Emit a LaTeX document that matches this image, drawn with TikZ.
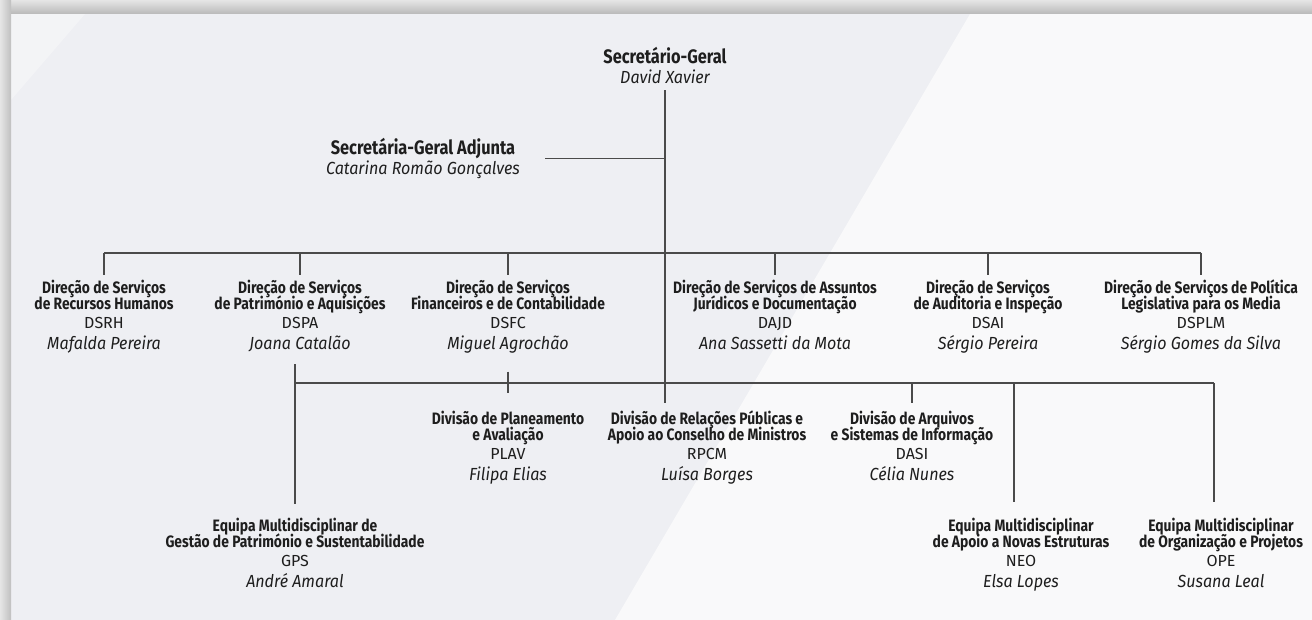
\documentclass[tikz,border=0pt]{standalone}
\usepackage{fontspec}
\usepackage{tikz}
\usetikzlibrary{positioning, calc}
\setmainfont{Fira Sans}
\newfontfamily\headfam[FakeStretch=0.84]{Fira Sans}
\newfontfamily\abbrfam[FakeStretch=1.0]{Fira Sans}
\newfontfamily\namefam[FakeStretch=0.92]{Fira Sans}
\definecolor{panel}{HTML}{EEEFF3}
\definecolor{panellight}{HTML}{F9F9FA}
\definecolor{ink}{HTML}{1E1E1E}
\definecolor{wire}{HTML}{4A4A4A}
\newcommand{\fixlines}{\lineskiplimit-20pt\relax}
\newcommand{\hd}{\headfam\bfseries\fontsize{16.5}{16}\selectfont}
% chief: title and name
\newcommand{\chief}[2]{\rule{0pt}{15pt}{\headfam\bfseries\fontsize{19.5}{20}\selectfont #1}\\{\namefam\itshape\fontsize{17.5}{20}\selectfont #2}}
% unit: two title lines, acronym, head
\newcommand{\orgunit}[4]{\rule{0pt}{12pt}{\hd #1}\\{\hd #2}\\[3pt]{\abbrfam\fontsize{16}{16}\selectfont #3}\\[5pt]{\namefam\itshape\fontsize{17.5}{16}\selectfont #4}}

\begin{document}
\begin{tikzpicture}[x=1pt, y=-1pt,
    unit/.style={align=center, anchor=north, inner sep=0pt, text=ink, font=\fontsize{13}{16}\selectfont\fixlines},
    chiefbox/.style={unit, font=\fontsize{16}{20}\selectfont\fixlines},
    orgline/.style={draw=wire, line width=1.3pt}]
    \useasboundingbox (0,0) rectangle (1312,620);
    % Background and frame
    \fill[panel] (11,14) rectangle (1312,620);
    \fill[panellight] (970,14) -- (1312,14) -- (1312,620) -- (615,620) -- cycle;
    \fill[panellight, opacity=0.5] (11,14) -- (85,14) -- (11,100) -- cycle;
    \shade[top color=gray!20, bottom color=gray!55] (0,0) rectangle (1312,14);
    \shade[left color=gray!20, right color=gray!50] (0,0) rectangle (11,620);

    % Top
    \node[chiefbox] (sg) at (665,47) {\chief{Secretário-Geral}{David Xavier}};
    \node[chiefbox] (adj) at (423,138) {\chief{Secretária-Geral Adjunta}{Catarina Romão Gonçalves}};

    % Direções de Serviços
    \node[unit] (dsrh) at (104,280) {\orgunit{Direção de Serviços}{de Recursos Humanos}{DSRH}{Mafalda Pereira}};
    \node[unit] (dspa) at (300,280) {\orgunit{Direção de Serviços}{de Património e Aquisições}{DSPA}{Joana Catalão}};
    \node[unit] (dsfc) at (508,280) {\orgunit{Direção de Serviços}{Financeiros e de Contabilidade}{DSFC}{Miguel Agrochão}};
    \node[unit] (dajd) at (775,280) {\orgunit{Direção de Serviços de Assuntos}{Jurídicos e Documentação}{DAJD}{Ana Sassetti da Mota}};
    \node[unit] (dsai) at (988,280) {\orgunit{Direção de Serviços}{de Auditoria e Inspeção}{DSAI}{Sérgio Pereira}};
    \node[unit] (dsplm) at (1201,280) {\orgunit{Direção de Serviços de Política}{Legislativa para os Media}{DSPLM}{Sérgio Gomes da Silva}};

    % Divisões
    \node[unit] (plav) at (508,411) {\orgunit{Divisão de Planeamento}{e Avaliação}{PLAV}{Filipa Elias}};
    \node[unit] (rpcm) at (707,411) {\orgunit{Divisão de Relações Públicas e}{Apoio ao Conselho de Ministros}{RPCM}{Luísa Borges}};
    \node[unit] (dasi) at (912,411) {\orgunit{Divisão de Arquivos}{e Sistemas de Informação}{DASI}{Célia Nunes}};

    % Equipas multidisciplinares
    \node[unit] (gps) at (295,518) {\orgunit{Equipa Multidisciplinar de}{Gestão de Património e Sustentabilidade}{GPS}{André Amaral}};
    \node[unit] (neo) at (1021,518) {\orgunit{Equipa Multidisciplinar}{de Apoio a Novas Estruturas}{NEO}{Elsa Lopes}};
    \node[unit] (ope) at (1221,518) {\orgunit{Equipa Multidisciplinar}{de Organização e Projetos}{OPE}{Susana Leal}};

    \coordinate (bus1) at (0,253);
    \coordinate (bus2) at (0,383);

    % Connectors
    \draw[orgline] ([yshift=-6.5pt]sg.south) -- ([yshift=8pt]sg.south |- rpcm.north);
    \draw[orgline] ([xshift=25pt]adj.east) -- (adj.east -| sg.south);
    \draw[orgline] (dsrh.north |- bus1) -- (dsplm.north |- bus1);
    \foreach \d in {dsrh, dspa, dsfc, dajd, dsai, dsplm}
        \draw[orgline] (\d.north |- bus1) -- ([yshift=5pt]\d.north);
    \draw[orgline] (gps.north |- bus2) -- ([xshift=-7pt]ope.north |- bus2);
    \draw[orgline] ([yshift=-12pt]gps.north |- dspa.south) -- ([yshift=14pt]gps.north);
    \draw[orgline] ([yshift=-18pt]plav.north |- dsfc.south) -- ([yshift=18pt]plav.north);
    \draw[orgline] (dasi.north |- bus2) -- ([yshift=8pt]dasi.north);
    \draw[orgline] ([xshift=-7pt]neo.north |- bus2) -- ([xshift=-7pt, yshift=16pt]neo.north);
    \draw[orgline] ([xshift=-7pt]ope.north |- bus2) -- ([xshift=-7pt, yshift=16pt]ope.north);
\end{tikzpicture}
\end{document}
